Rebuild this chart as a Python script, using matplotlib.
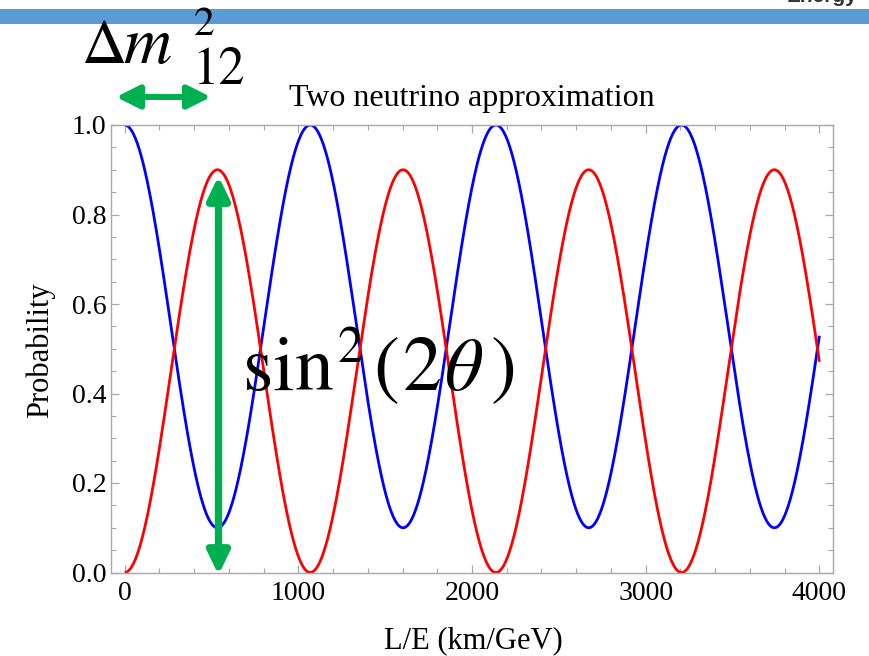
import numpy as np
import matplotlib
matplotlib.use("Agg")
import matplotlib.pyplot as plt
from matplotlib.patches import FancyArrowPatch, Rectangle
from matplotlib.ticker import MultipleLocator

# ---- data ----
sin2_2theta = 0.9          # oscillation amplitude
dm2 = 2.32e-3              # eV^2 (wavelength ~1069 km/GeV)
LE_max = 4000              # km/GeV
x_ticks = [0, 1000, 2000, 3000, 4000]
y_ticks = [0.0, 0.2, 0.4, 0.6, 0.8, 1.0]
title = "Two neutrino approximation"
xlabel = "L/E (km/GeV)"
ylabel = "Probability"

LE = np.linspace(0, LE_max, 1601)
p_osc = sin2_2theta * np.sin(1.267 * dm2 * LE) ** 2
p_surv = 1 - p_osc

serif = 'Liberation Serif'
stix = 'STIXGeneral'

W, H = 869, 656
fig = plt.figure(figsize=(W / 100, H / 100), dpi=100)

def fx(px):
    return px / W

def fy(py):
    return 1 - py / H

# slide header bar
fig.add_artist(Rectangle((0, fy(24)), 1, (24 - 9) / H, transform=fig.transFigure,
                         facecolor='#5B9BD5', edgecolor='none', zorder=0))
fig.text(fx(857), fy(2), "Energy", ha='right', va='baseline', fontsize=15,
         fontweight='bold', color='#333333', family='Liberation Sans')

ax_l, ax_r, ax_t, ax_b = 110.7, 833.3, 125.0, 572.5
ax = fig.add_axes([fx(ax_l), fy(ax_b), (ax_r - ax_l) / W, (ax_b - ax_t) / H])
ax.plot(LE, p_surv, color='#0000FF', lw=2.0, solid_capstyle='butt')
ax.plot(LE, p_osc, color='#FF0000', lw=2.0, solid_capstyle='butt')
ax.set_xlim(-80, 4080)
ax.set_ylim(0, 1)
ax.set_xticks(x_ticks)
ax.set_xticklabels([str(v) for v in x_ticks])
ax.set_yticks(y_ticks)
ax.set_yticklabels([f"{v:.1f}" for v in y_ticks])
ax.xaxis.set_minor_locator(MultipleLocator(200))
ax.yaxis.set_minor_locator(MultipleLocator(0.05))
for s in ax.spines.values():
    s.set_color('#a8a8a8')
    s.set_linewidth(1.0)
ax.tick_params(which='both', direction='in', top=True, right=True, color='#a8a8a8')
ax.tick_params(which='major', length=6, width=0.9, labelsize=20)
ax.tick_params(axis='x', which='major', pad=6)
ax.tick_params(axis='y', which='major', pad=3)
ax.tick_params(which='minor', length=3.5, width=0.8)
for lab in ax.get_xticklabels() + ax.get_yticklabels():
    lab.set_family(serif)

axw, axh = ax_r - ax_l, ax_b - ax_t
ax.set_xlabel(xlabel, family=serif, fontsize=22)
ax.xaxis.label.set_va('baseline')
ax.xaxis.set_label_coords((473 - ax_l) / axw, (ax_b - 648) / axh)
ax.set_ylabel(ylabel, family=serif, fontsize=22)
ax.yaxis.label.set_va('center')
ax.yaxis.set_label_coords((40 - ax_l) / axw, (ax_b - 350) / axh)
ax.set_title(title, family=serif, fontsize=23, pad=13.7)

# annotations
green = '#00B050'
arrow_h = FancyArrowPatch((fx(116), fy(97)), (fx(211), fy(97)), transform=fig.transFigure,
                          arrowstyle='<|-|>,head_length=14,head_width=7', mutation_scale=1,
                          shrinkA=0, shrinkB=0, color=green, lw=4.3, zorder=5)
fig.add_artist(arrow_h)
arrow_v = FancyArrowPatch((fx(218.5), fy(575)), (fx(218.5), fy(176)), transform=fig.transFigure,
                          arrowstyle='<|-|>,head_length=13.5,head_width=6.5', mutation_scale=1,
                          shrinkA=0, shrinkB=0, color=green, lw=5.3, zorder=5)
fig.add_artist(arrow_v)

# Delta m^2_12 label (built from pieces)
fig.text(fx(82), fy(63), '\u0394', family=stix, fontsize=45, ha='left', va='baseline', zorder=6)
fig.text(fx(123), fy(63), 'm', family=stix, style='italic', fontsize=48, ha='left',
         va='baseline', zorder=6)
fig.text(fx(194), fy(35), '2', family=stix, fontsize=30, ha='left', va='baseline', zorder=6)
fig.text(fx(192), fy(84), '12', family=stix, fontsize=38, ha='left', va='baseline', zorder=6)

# sin^2(2 theta) label (built from pieces)
base = fy(390)
fig.text(fx(243), base, 'sin', family=stix, fontsize=56, ha='left', va='baseline', zorder=6)
fig.text(fx(338), fy(362), '2', family=stix, fontsize=37, ha='left', va='baseline', zorder=6)
fig.text(fx(373), base, '(', family=stix, fontsize=56, ha='left', va='baseline', zorder=6)
fig.text(fx(403), base, '2', family=stix, fontsize=56, ha='left', va='baseline', zorder=6)
fig.text(fx(445), base, '\u03b8', family=stix, style='italic', fontsize=54, ha='left',
         va='baseline', zorder=6)
fig.text(fx(491), base, ')', family=stix, fontsize=56, ha='left', va='baseline', zorder=6)

fig.savefig('out.png', dpi=100)
